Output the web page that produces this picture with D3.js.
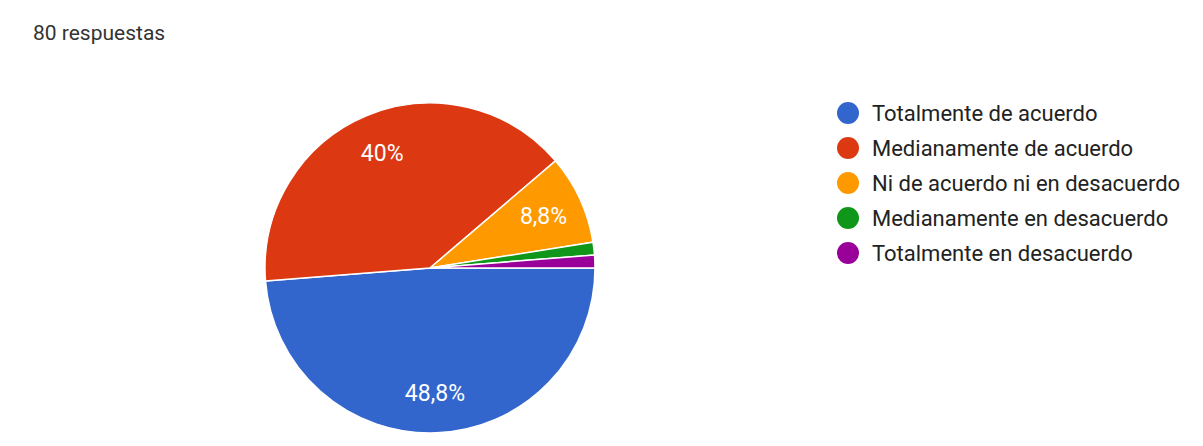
<!DOCTYPE html>
<html><head><meta charset="utf-8">
<script src="https://cdn.jsdelivr.net/npm/d3@7"></script>
<style>body{margin:0;background:#fff;}svg{display:block;}</style>
</head><body>
<svg id="c" width="1203" height="446"></svg>
<script>
const categories = ["Totalmente de acuerdo","Medianamente de acuerdo","Ni de acuerdo ni en desacuerdo","Medianamente en desacuerdo","Totalmente en desacuerdo"];
const counts = [39, 32, 7, 1, 1];
const pctLabels = ["48,8%","40%","8,8%","",""];
const colors = ["#3366cc","#dc3912","#ff9900","#109618","#990099"];
const title = "80 respuestas";

const svg = d3.select("#c");
const font = "Roboto, Arial, sans-serif";
svg.append("text").attr("x",33).attr("y",40).attr("font-family",font).attr("font-size",21).attr("fill","#333").text(title);

const cx = 430, cy = 268, R = 165;
const data = categories.map((c,i)=>({cat:c,v:counts[i],lab:pctLabels[i],col:colors[i]}));
const pie = d3.pie().value(d=>d.v).sort(null).startAngle(Math.PI/2).endAngle(Math.PI/2+2*Math.PI);
const arcs = pie(data);
const arc = d3.arc().innerRadius(0).outerRadius(R);
const labelArc = d3.arc().innerRadius(125).outerRadius(125);
const g = svg.append("g").attr("transform",`translate(${cx},${cy})`);
g.selectAll("path").data(arcs).join("path").attr("d",arc).attr("fill",d=>d.data.col).attr("stroke","#fff").attr("stroke-width",1.5);
g.selectAll("text").data(arcs.filter(d=>d.data.lab)).join("text")
  .attr("transform",d=>`translate(${labelArc.centroid(d)})`)
  .attr("text-anchor","middle").attr("dy","0.35em")
  .attr("font-family",font).attr("font-size",23).attr("fill","#fff").text(d=>d.data.lab);

const y = d3.scalePoint().domain(categories).range([113,253]);
const lg = svg.append("g");
const rows = lg.selectAll("g").data(data).join("g").attr("transform",d=>`translate(0,${y(d.cat)})`);
rows.append("circle").attr("cx",848).attr("cy",0).attr("r",11).attr("fill",d=>d.col);
rows.append("text").attr("x",872).attr("dy","0.35em").attr("font-family",font).attr("font-size",22).attr("fill","#222").text(d=>d.cat);
</script>
</body></html>
